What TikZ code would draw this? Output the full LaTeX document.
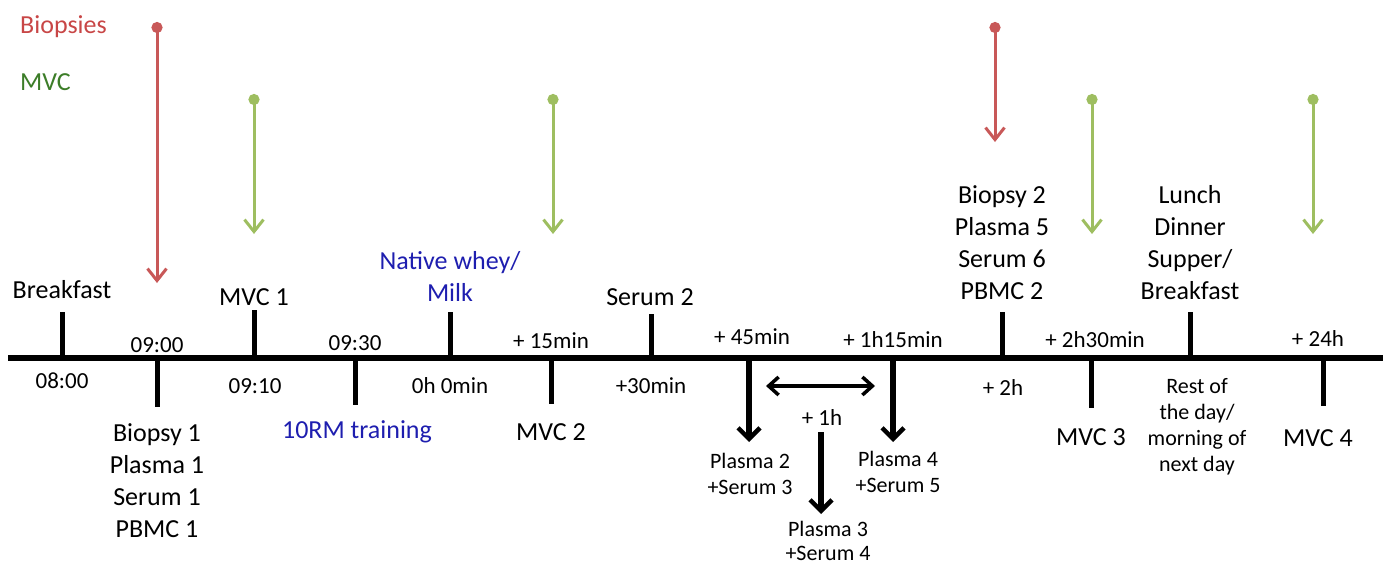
\documentclass[tikz,border=0pt]{standalone}
\usepackage{fontspec}
\setmainfont{Carlito}
\usetikzlibrary{arrows.meta}
\definecolor{bred}{RGB}{200,88,88}
\definecolor{bgreen}{RGB}{158,190,96}
\definecolor{tred}{RGB}{200,70,70}
\definecolor{tgreen}{RGB}{60,125,40}
\definecolor{tblue}{RGB}{30,30,175}
\begin{document}
\begin{tikzpicture}[x=1pt,y=-1pt,
  lbl/.style={font=\fontsize{26}{32}\selectfont, align=center, inner sep=0pt},
  tim/.style={font=\fontsize{23}{27}\selectfont, align=center, inner sep=0pt},
  sml/.style={font=\fontsize{22}{26}\selectfont, align=center, inner sep=0pt},
  tickline/.style={line width=5pt},
  barrow/.style={line width=5.5pt, -{Straight Barb[length=11pt,width=22pt,line width=4.5pt]}},
  darrow/.style={line width=3.5pt, {Straight Barb[length=10pt,width=18pt,line width=3.5pt]}-{Straight Barb[length=10pt,width=18pt,line width=3.5pt]}},
  carrow/.style={line width=3pt, {Circle[length=11pt]}-{Straight Barb[length=12pt,width=19pt,line width=3pt]}}
]
\useasboundingbox (0,0) rectangle (1388,568);

% main line
\coordinate (L) at (8,358);
\coordinate (R) at (1383,358);
\draw[line width=5.5pt] (L) -- (R);

% up ticks
\foreach \n/\x/\t in {tbk/62/312, tm1/254/310, tnw/450/312, ts2/651/314, tb2/1002/312, tlu/1190/312}{
  \coordinate (\n a) at (\x,358);
  \coordinate (\n b) at (\x,\t);
  \draw[tickline] (\n a) -- (\n b);
}
% down ticks
\foreach \n/\x/\t in {t09/157/407, t93/355/405, t15/551/404, t23/1091/408, t24/1323/406}{
  \coordinate (\n a) at (\x,358);
  \coordinate (\n b) at (\x,\t);
  \draw[tickline] (\n a) -- (\n b);
}

% black arrows
\coordinate (a45s) at (749,360); \coordinate (a45e) at (749,442);
\coordinate (a75s) at (893,360); \coordinate (a75e) at (893,442);
\coordinate (a60s) at (821,432); \coordinate (a60e) at (821,514);
\draw[barrow] (a45s) -- (a45e);
\draw[barrow] (a75s) -- (a75e);
\draw[barrow] (a60s) -- (a60e);
\coordinate (dl) at (766,386); \coordinate (dr) at (875,386);
\draw[darrow] (dl) -- (dr);

% coloured arrows
\coordinate (r1s) at (157,22); \coordinate (r1e) at (157,283);
\coordinate (r2s) at (995,22); \coordinate (r2e) at (995,142);
\draw[carrow, bred] (r1s) -- (r1e);
\draw[carrow, bred] (r2s) -- (r2e);
\foreach \n/\x in {g1/254, g2/553, g3/1092, g4/1313}{
  \coordinate (\n s) at (\x,94);
  \coordinate (\n e) at (\x,234);
  \draw[carrow, bgreen] (\n s) -- (\n e);
}

% legend
\node[lbl, anchor=west, text=tred] (legb) at (20,27) {Biopsies};
\node[lbl, anchor=west, text=tgreen] (legm) at (20,82) {MVC};

% labels above
\node[lbl] (nbk) at (62,290) {Breakfast};
\node[lbl] (nm1) at (254,297) {MVC 1};
\node[lbl, text=tblue] (nnw) at (450,276) {Native whey/\\Milk};
\node[lbl] (ns2) at (650,297) {Serum 2};
\node[lbl] (nb2) at (1002,243) {Biopsy 2\\Plasma 5\\Serum 6\\PBMC 2};
\node[lbl] (nlu) at (1190,243) {Lunch\\Dinner\\Supper/\\Breakfast};

% times above line
\node[tim] (t0900) at (157,345) {09:00};
\node[tim] (t0930) at (355,343) {09:30};
\node[tim] (tp15) at (551,341) {+ 15min};
\node[tim] (tp45) at (752,337) {+ 45min};
\node[tim] (tp75) at (893,340) {+ 1h15min};
\node[tim] (tp150) at (1095,340) {+ 2h30min};
\node[tim] (tp24) at (1318,339) {+ 24h};

% times below line
\node[tim] (t0800) at (62,381) {08:00};
\node[tim] (t0910) at (255,386) {09:10};
\node[tim] (t00) at (450,386) {0h 0min};
\node[tim] (tp30) at (651,386) {+30min};
\node[tim] (tp60) at (822,418) {+ 1h};
\node[tim] (tp120) at (1003,388) {+ 2h};

% labels below
\node[lbl] (nb1) at (157,481) {Biopsy 1\\Plasma 1\\Serum 1\\PBMC 1};
\node[lbl, text=tblue] (n10) at (357,432) {10RM training};
\node[lbl] (nm2) at (551,432) {MVC 2};
\node[sml] (np2) at (750,474) {Plasma 2\\+Serum 3};
\node[sml, font=\fontsize{22}{24}\selectfont] (np3) at (828,541) {Plasma 3\\+Serum 4};
\node[sml] (np4) at (898,472) {Plasma 4\\+Serum 5};
\node[lbl] (nm3) at (1091,437) {MVC 3};
\node[sml] (nrest) at (1197,427) {Rest of\\the day/\\morning of\\next day};
\node[lbl] (nm4) at (1318,438) {MVC 4};
\end{tikzpicture}
\end{document}
